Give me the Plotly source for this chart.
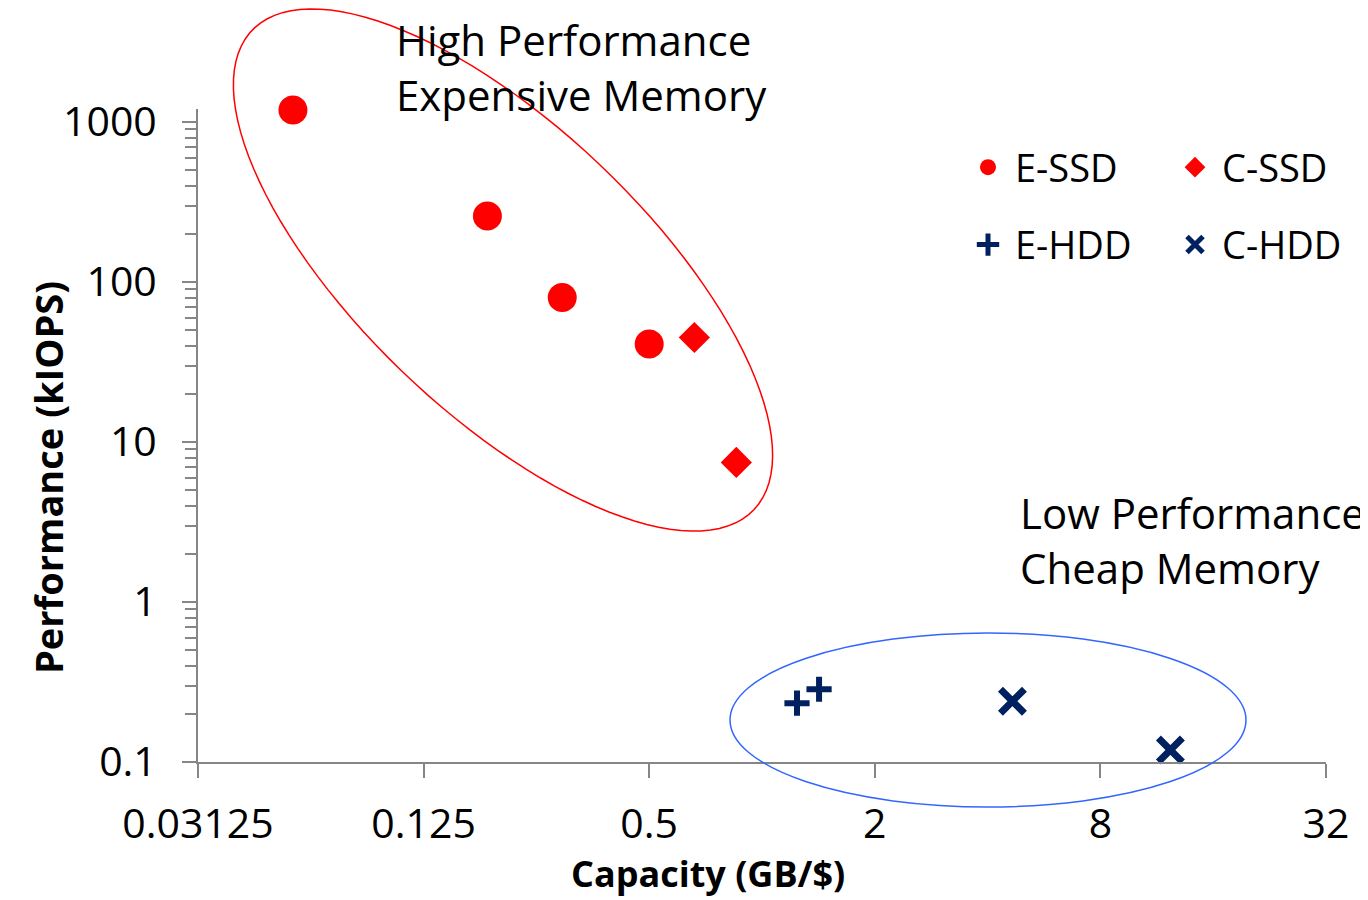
import numpy as np
import plotly.graph_objects as go

# ---- data ----
essd_x = [0.056, 0.185, 0.293, 0.50]
essd_y = [1190, 259, 80, 41]
cssd_x = [0.66, 0.854]
cssd_y = [45, 7.45]
ehdd_x = [1.24, 1.42]
ehdd_y = [0.233, 0.285]
chdd_x = [4.66, 12.3]
chdd_y = [0.24, 0.119]

x_tickvals = [0.03125, 0.125, 0.5, 2, 8, 32]
x_ticktext = ["0.03125", "0.125", "0.5", "2", "8", "32"]
y_tickvals = [0.1, 1, 10, 100, 1000]
y_ticktext = ["0.1", "1", "10", "100", "1000"]

RED = "#FF0000"
NAVY = "#002060"
AXIS = "#868686"
FONT = "Open Sans"

# page offset of the figure div (default body margin)
OX, OY = 8, 8
W, H = 1360, 892
L, R, T, B = 190, 42, 101, 138
PW, PH = W - L - R, H - T - B


def px2paper(px, py):
    """page pixel -> paper coordinate"""
    return (px - OX - L) / PW, (OY + H - B - py) / PH


fig = go.Figure()
fig.add_trace(go.Scatter(x=essd_x, y=essd_y, mode="markers", name="E-SSD",
                         legend="legend", legendgroup="a", cliponaxis=False,
                         marker=dict(symbol="circle", size=29, color=RED)))
fig.add_trace(go.Scatter(x=ehdd_x, y=ehdd_y, mode="markers", name="E-HDD",
                         legend="legend", legendgroup="b", cliponaxis=False,
                         marker=dict(symbol="cross-thin", size=18, color=NAVY,
                                     line=dict(color=NAVY, width=6))))
fig.add_trace(go.Scatter(x=cssd_x, y=cssd_y, mode="markers", name="C-SSD",
                         legend="legend2", legendgroup="c", cliponaxis=False,
                         marker=dict(symbol="diamond", size=24, color=RED)))
fig.add_trace(go.Scatter(x=chdd_x, y=chdd_y, mode="markers", name="C-HDD",
                         legend="legend2", legendgroup="d", cliponaxis=False,
                         marker=dict(symbol="x-thin", size=24, color=NAVY,
                                     line=dict(color=NAVY, width=7))))

# ---- rotated red ellipse (annotation shape, paper coords) ----
cx, cy, a, b, th = 503, 270, 347, 143, np.deg2rad(43.7)
t = np.linspace(0, 2 * np.pi, 120)
ex = cx + a * np.cos(t) * np.cos(th) - b * np.sin(t) * np.sin(th)
ey = cy + a * np.cos(t) * np.sin(th) + b * np.sin(t) * np.cos(th)
pts = [px2paper(u, v) for u, v in zip(ex, ey)]
path = "M " + " L ".join(f"{u:.5f},{v:.5f}" for u, v in pts) + " Z"
fig.add_shape(type="path", path=path, xref="paper", yref="paper",
              line=dict(color=RED, width=1.5))

bx0, by0 = px2paper(730, 807)
bx1, by1 = px2paper(1246, 633)
fig.add_shape(type="circle", xref="paper", yref="paper",
              x0=bx0, x1=bx1, y0=by0, y1=by1,
              line=dict(color="#3366FF", width=1.5))

# ---- text annotations ----
ax1, ay1 = px2paper(394, 9)
fig.add_annotation(text="High Performance<br>Expensive Memory", xref="paper", yref="paper",
                   x=ax1, y=ay1, xanchor="left", yanchor="top", align="left",
                   showarrow=False, font=dict(family=FONT, size=42, color="black"))
ax2, ay2 = px2paper(1018, 482)
fig.add_annotation(text="Low Performance<br>Cheap Memory", xref="paper", yref="paper",
                   x=ax2, y=ay2, xanchor="left", yanchor="top", align="left",
                   showarrow=False, font=dict(family=FONT, size=42, color="black"))

# axis titles placed where the reference shows them
tx, ty = px2paper(708, 873)
fig.add_annotation(text="<b>Capacity (GB/$)</b>", xref="paper", yref="paper",
                   x=tx, y=ty, xanchor="center", yanchor="middle", showarrow=False,
                   borderpad=0,
                   font=dict(family=FONT, size=36, color="black"))
yx, yy = px2paper(48, 478)
fig.add_annotation(text="<b>Performance (kIOPS)</b>", xref="paper", yref="paper",
                   x=yx, y=yy, xanchor="center", yanchor="middle", showarrow=False,
                   textangle=-90, font=dict(family=FONT, size=38, color="black"))

lx1, ly = px2paper(961, 136)
lx2, _ = px2paper(1168, 136)
legend_common = dict(yanchor="top", xanchor="left", y=ly, bgcolor="rgba(0,0,0,0)",
                     font=dict(family=FONT, size=38, color="black"),
                     itemwidth=44, tracegroupgap=25, orientation="v")

fig.update_layout(
    width=W, height=H, autosize=False,
    margin=dict(l=L, r=R, t=T, b=B),
    plot_bgcolor="white", paper_bgcolor="white",
    font=dict(family=FONT, color="black"),
    legend=dict(x=lx1, **legend_common),
    legend2=dict(x=lx2, **legend_common),
    xaxis=dict(type="log", range=[np.log10(0.03125), np.log10(32)],
               tickvals=x_tickvals, ticktext=x_ticktext, automargin=False,
               showgrid=False, zeroline=False, showline=True, linecolor=AXIS, linewidth=2,
               ticks="outside", ticklen=14, tickwidth=2, tickcolor=AXIS,
               ticklabelstandoff=11,
               tickfont=dict(family=FONT, size=41, color="black")),
    yaxis=dict(type="log", range=[-1, np.log10(1206)],
               tickvals=y_tickvals, ticktext=y_ticktext, automargin=False,
               showgrid=False, zeroline=False, showline=True, linecolor=AXIS, linewidth=2,
               ticks="outside", ticklen=14, tickwidth=2, tickcolor=AXIS,
               ticklabelstandoff=17,
               minor=dict(ticks="outside", ticklen=11, tickwidth=2, tickcolor=AXIS,
                          showgrid=False, dtick="D1"),
               tickfont=dict(family=FONT, size=41, color="black")),
)

fig.write_html("out.html")
